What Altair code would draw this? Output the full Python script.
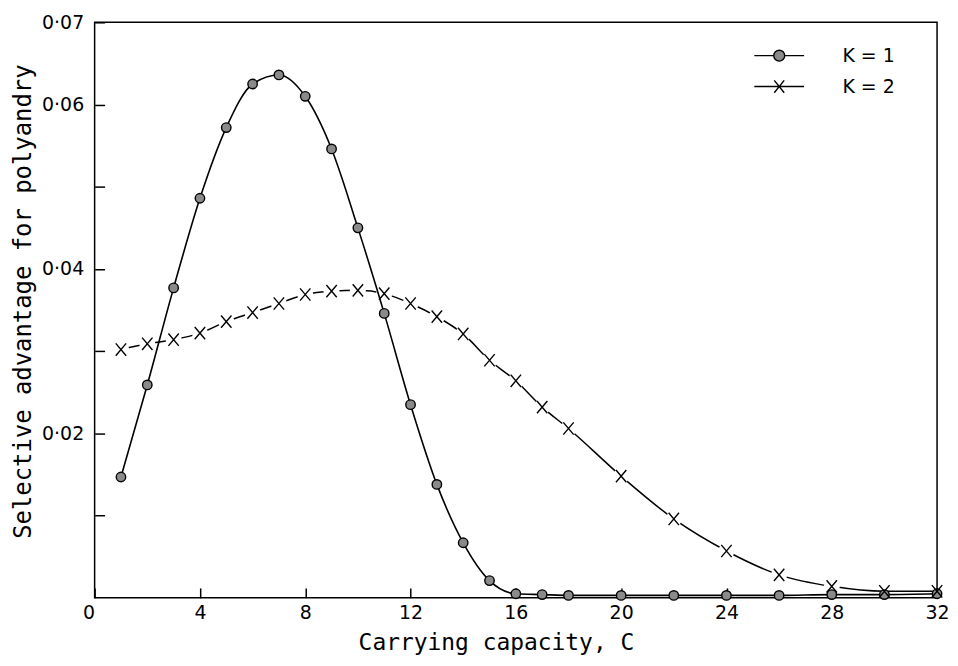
import altair as alt
import pandas as pd

# ---- data ----
SERIES = ["K = 1", "K = 2"]
C_K1 = [1, 2, 3, 4, 5, 6, 7, 8, 9, 10, 11, 12, 13, 14, 15, 16, 17, 18, 20, 22, 24, 26, 28, 30, 32]
S_K1 = [0.0147, 0.0259, 0.0377, 0.0486, 0.0572, 0.0625, 0.0636, 0.0610, 0.0546, 0.0450,
        0.0346, 0.0235, 0.0138, 0.0067, 0.0021, 0.0005, 0.0004, 0.0003, 0.0003, 0.0003,
        0.0003, 0.0003, 0.0004, 0.0004, 0.0005]
C_K2 = [1, 2, 3, 4, 5, 6, 7, 8, 9, 10, 11, 12, 13, 14, 15, 16, 17, 18, 20, 22, 24, 26, 28, 30, 32]
S_K2 = [0.0302, 0.0309, 0.0314, 0.0322, 0.0336, 0.0347, 0.0358, 0.0369, 0.0373, 0.0374,
        0.0370, 0.0358, 0.0342, 0.0321, 0.0289, 0.0264, 0.0232, 0.0206, 0.0148, 0.0096,
        0.0057, 0.0028, 0.0014, 0.0008, 0.0008]
X_TICKS = [0, 4, 8, 12, 16, 20, 24, 28, 32]
Y_TICKS = [0.01, 0.02, 0.03, 0.04, 0.05, 0.06, 0.07]
Y_LABELED = ["0.02", "0.04", "0.06", "0.07"]

df = pd.concat([
    pd.DataFrame({"C": C_K1, "S": S_K1, "K": SERIES[0]}),
    pd.DataFrame({"C": C_K2, "S": S_K2, "K": SERIES[1]}),
], ignore_index=True)

LBL_FONT = "DejaVu Sans"
TTL_FONT = "DejaVu Sans Mono"
XPATH = "M-1.1,-1.3L1.1,1.3M-1.1,1.3L1.1,-1.3"
LEG_K1 = "M-2,0L-0.44,0M0.44,0L2,0M-0.44,0A0.44,0.44,0,1,1,0.44,0A0.44,0.44,0,1,1,-0.44,0Z"
LEG_K2 = "M-2,0L2,0M-0.4,-0.5L0.4,0.5M-0.4,0.5L0.4,-0.5"

y_label_expr = (
    "indexof(" + str(Y_LABELED) + ", format(datum.value, '.2f')) >= 0 ? "
    "replace(format(datum.value, '.2f'), '.', '·') : ''"
)

x_enc = alt.X(
    "C:Q",
    scale=alt.Scale(domain=[0, 32], nice=False, zero=False),
    axis=alt.Axis(
        values=X_TICKS, format="d", title="Carrying capacity, C",
        offset=-10, tickSize=10, domain=False, grid=False, labelFlush=False,
        labelAlign={"condition": {"test": "datum.value === 0", "value": "right"}, "value": "center"},
        labelPadding=6, labelFont=LBL_FONT, labelFontSize=19, labelColor="black",
        tickColor="black", tickWidth=1.5,
        titleFont=TTL_FONT, titleFontSize=23, titleFontWeight="normal", titleColor="black",
        titlePadding=9, titleX=403,
    ),
)
y_enc = alt.Y(
    "S:Q",
    scale=alt.Scale(domain=[0, 0.07], nice=False, zero=True),
    axis=alt.Axis(
        values=Y_TICKS, labelExpr=y_label_expr, title="Selective advantage for polyandry",
        offset=-10, tickSize=10, domain=False, grid=False,
        labelPadding=11, labelFont=LBL_FONT, labelFontSize=19, labelColor="black",
        tickColor="black", tickWidth=1.5,
        titleFont=TTL_FONT, titleFontSize=24, titleFontWeight="normal", titleColor="black",
        titlePadding=6, titleY=280,
    ),
)

base = alt.Chart(df)

line2 = base.transform_filter(alt.datum.K == SERIES[1]).mark_line(
    color="black", strokeWidth=1.5, interpolate="monotone"
).encode(x=x_enc, y=y_enc)

halo = base.transform_filter(
    (alt.datum.K == SERIES[1]) & (alt.datum.S > 0.001)
).mark_point(shape="circle", filled=True, fill="white", size=260, opacity=1, strokeWidth=0).encode(
    x=x_enc, y=y_enc
)

line1 = base.transform_filter(alt.datum.K == SERIES[0]).mark_line(
    color="black", strokeWidth=1.6, interpolate="monotone"
).encode(x=x_enc, y=y_enc)

points = base.mark_point(
    filled=True, fill="#8a8a8a", stroke="black", strokeWidth=1.4, size=90, opacity=1
).encode(
    x=x_enc, y=y_enc,
    shape=alt.Shape("K:N", scale=alt.Scale(domain=SERIES, range=["circle", XPATH]), legend=None),
)


def legend_entry(idx, path, ly):
    """Empty layer (no marks drawn) that only carries one legend entry: line + marker glyph."""
    leg = alt.Legend(
        title=None, orient="none", legendX=674, legendY=ly, padding=0,
        values=[SERIES[idx]], symbolType=path,
        symbolSize=625, symbolStrokeWidth=1.4, symbolFillColor="#8a8a8a", symbolOpacity=1,
        labelFont=LBL_FONT, labelFontSize=19, labelColor="black", labelOffset=50,
    )
    return base.transform_filter(alt.datum.S < 0).mark_point(
        filled=False, strokeWidth=1.4, size=90, opacity=1, fill="#8a8a8a"
    ).encode(
        x=x_enc, y=y_enc,
        stroke=alt.Stroke("K:N", scale=alt.Scale(domain=SERIES, range=["black", "black"]), legend=leg),
    )


leg1 = legend_entry(0, LEG_K1, 20)
leg2 = legend_entry(1, LEG_K2, 51)

chart = alt.layer(line2, halo, line1, points, leg1, leg2).resolve_scale(
    stroke="independent"
).properties(
    width=846, height=578,
    padding={"left": 3, "top": 4, "right": 0, "bottom": 0},
).configure_view(stroke="black", strokeWidth=1.5, fill="white")

chart.save("out.html", embed_options={"renderer": "svg", "actions": False})
